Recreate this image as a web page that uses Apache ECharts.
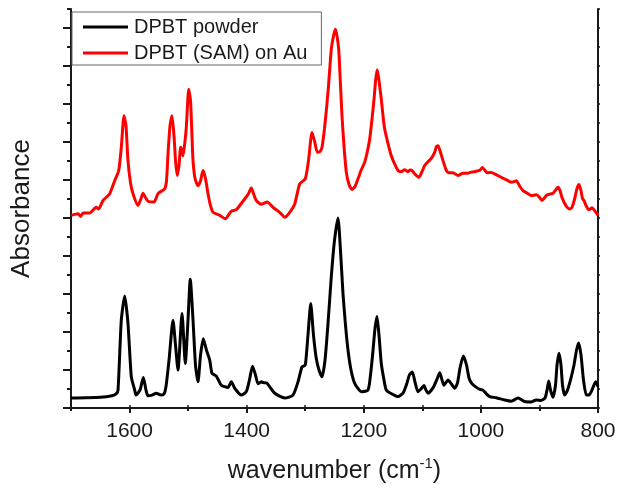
<!DOCTYPE html>
<html><head><meta charset="utf-8">
<script src="https://cdn.jsdelivr.net/npm/echarts@6/dist/echarts.min.js"></script>
<style>html,body{margin:0;padding:0;background:#fff}#c{width:618px;height:488px}</style>
</head><body><div id="c"></div>
<script>
const seriesNames = ['DPBT powder', 'DPBT (SAM) on Au'];

const powderWavenumber = [1700,1650,1630,1623,1619.7,1614.1,1608.3,1602.7,1597,1591.2,1589,1582.2,1576.5,1571.9,1568.5,1561.7,1554.3,1546.3,1541.2,1537.8,1532.6,1525.8,1521.5,1517.3,1510.4,1504.8,1500.2,1496.3,1491.6,1487.4,1483.1,1478.8,1474.1,1468.6,1463.1,1459.2,1451.9,1443.3,1431.9,1426.2,1420.4,1409.2,1400.6,1395.2,1390,1384.9,1380.6,1374.3,1372.1,1365.8,1360.7,1352.1,1335,1320.9,1312.3,1305.5,1299.9,1295.3,1290.6,1285.9,1281.1,1276.5,1271.3,1266.2,1261.1,1255.5,1250,1244,1239.8,1235.5,1231.2,1226.9,1221.8,1215.5,1204.2,1192.8,1188.5,1184.2,1180.8,1177.4,1174,1170.1,1165.5,1161.5,1151.8,1141.6,1133,1127.4,1122,1117.1,1112.5,1107.4,1102.3,1097.2,1093.7,1090.3,1081.8,1074.9,1070.3,1066.4,1063,1056.1,1050.2,1044.7,1040,1035.7,1030,1024.5,1020.3,1015.7,1008.3,1001.5,996.4,990.4,985,973.7,959.3,948.1,936.6,925.2,913.9,905.4,897.3,890.5,887.1,884.2,881.1,876.9,872.6,870,866.6,863.2,860.6,856.9,852.1,845.6,841,836.7,833,829,824.8,820,815.4,811.4,803.9,800];
const powderAbsorbance = [0.26,0.28,0.32,0.37,0.47,2.31,2.95,2.23,0.82,0.47,0.34,0.47,0.80,0.47,0.32,0.34,0.39,0.34,0.37,0.56,1.26,2.31,1.65,1.0,2.49,1.17,2.31,3.39,2.31,1.13,0.69,1.39,1.82,1.52,1.26,0.91,0.84,0.60,0.54,0.69,0.52,0.34,0.43,0.74,1.10,0.87,0.64,0.69,0.67,0.66,0.56,0.39,0.26,0.34,0.69,1.08,1.13,1.92,2.75,1.92,1.30,1.0,0.82,1.26,2.22,3.45,4.41,5.0,4.15,3.01,2.18,1.52,1.0,0.65,0.43,0.47,0.87,1.52,2.10,2.41,1.92,1.17,0.74,0.47,0.37,0.30,0.39,0.60,0.87,0.95,0.68,0.43,0.50,0.59,0.47,0.39,0.53,0.76,0.93,0.74,0.60,0.74,0.63,0.52,0.66,1.05,1.37,1.13,0.79,0.65,0.55,0.49,0.47,0.37,0.30,0.27,0.21,0.18,0.26,0.17,0.16,0.21,0.20,0.26,0.47,0.71,0.47,0.28,0.60,1.13,1.44,1.13,0.60,0.34,0.47,0.82,1.13,1.52,1.71,1.39,0.74,0.34,0.34,0.43,0.69,0.56];

const samWavenumber = [1699.5,1688,1683.4,1679.5,1668.1,1656.8,1652.7,1645.4,1633.9,1625.4,1618.5,1614.1,1609.5,1606.1,1602.7,1598.4,1594.1,1585.6,1580.5,1577,1572.8,1568.5,1558.3,1551.4,1540,1536.9,1534.3,1530.9,1527.5,1524.1,1521.5,1518.5,1515.6,1512.7,1510.4,1508.7,1506.2,1503.1,1499,1495.9,1493.4,1491.6,1488.2,1483.1,1478.8,1474.6,1470.3,1466,1461.8,1457.5,1446,1436.5,1426.2,1417.7,1403.4,1396.9,1392.1,1388.3,1383.5,1375,1364.8,1355,1343.6,1335,1326.5,1317.9,1309.4,1299.9,1294.4,1288.4,1284.1,1279.4,1274.8,1271.3,1267.1,1264,1260.2,1255.5,1251.7,1248.6,1245.7,1242.8,1240.1,1237.2,1233.8,1229.8,1225.2,1220.1,1215,1209.9,1204.7,1198.4,1193.6,1189.9,1185.9,1182.5,1179.5,1176.9,1174,1170.1,1167.2,1164.3,1158.6,1153,1147.5,1141.6,1136.4,1130.1,1124.5,1121,1117.6,1111.7,1105.7,1100.6,1096,1090.3,1084.7,1079.2,1075.8,1073.2,1069.8,1064.7,1059,1054.5,1047.6,1039.1,1030.6,1022,1015.2,1007.8,1001.5,997.3,993,989.1,982.3,974.2,965.1,957.1,948.1,944.3,939.5,934.1,928.1,921.3,913.9,905.4,900.7,895.6,891.4,886.6,882,876.9,871.7,868.3,864.9,861.5,858,853.8,848.3,844.4,840.1,835.9,832.4,829,826.5,823.9,820.5,815.9,812.8,810.2,806,800];
const samAbsorbance = [5.07,5.11,5.04,5.13,5.13,5.28,5.24,5.46,5.64,5.98,6.25,6.86,7.69,7.43,6.51,5.93,5.64,5.33,5.51,5.65,5.54,5.44,5.42,5.64,5.77,5.98,6.69,7.43,7.69,7.17,6.51,6.12,6.38,6.86,6.77,6.64,6.90,7.38,8.39,8.09,7.17,6.51,6.04,5.85,5.98,6.25,6.04,5.64,5.33,5.15,5.07,4.98,5.18,5.22,5.50,5.64,5.79,5.64,5.46,5.36,5.42,5.28,5.15,5.02,5.15,5.37,5.90,6.03,6.51,7.25,7.03,6.73,6.75,6.86,7.35,7.82,8.48,9.44,9.79,9.97,9.79,9.44,8.61,7.69,6.90,6.20,5.88,5.75,5.83,6.03,6.25,6.47,6.77,7.08,7.61,8.13,8.66,8.90,8.61,8.13,7.69,7.34,6.96,6.64,6.43,6.25,6.22,6.27,6.22,6.26,6.25,6.14,6.07,6.22,6.38,6.48,6.57,6.72,6.88,6.90,6.77,6.51,6.25,6.19,6.19,6.12,6.18,6.18,6.21,6.23,6.26,6.33,6.25,6.19,6.20,6.14,6.07,6.01,5.94,5.95,5.98,5.85,5.72,5.66,5.59,5.61,5.56,5.46,5.53,5.61,5.63,5.65,5.75,5.81,5.72,5.54,5.42,5.30,5.24,5.28,5.49,5.77,5.88,5.72,5.51,5.46,5.33,5.22,5.24,5.27,5.20,5.07];

const xLabelTicks = [1600, 1400, 1200, 1000, 800];
const xMinorTicks = [1700, 1500, 1300, 1100, 900];
const yMajorTicks = [0, 1, 2, 3, 4, 5, 6, 7, 8, 9, 10];
const yMinorTicks = [0.5, 1.5, 2.5, 3.5, 4.5, 5.5, 6.5, 7.5, 8.5, 9.5, 10.5];

const FONT = 'Liberation Sans, Arial, sans-serif';
const INK = '#1a1a1a';

function zip(xs, ys) { return xs.map((x, i) => [x, ys[i]]); }

const chart = echarts.init(document.getElementById('c'), null, {renderer: 'canvas'});

const xBase = {type: 'value', min: 800, max: 1700, interval: 100, inverse: true, splitLine: {show: false}};
const yBase = {type: 'value', min: 0, max: 10.5, interval: 0.5, splitLine: {show: false}};
const axLine = {show: true, lineStyle: {color: INK, width: 2}};

chart.setOption({
  animation: false,
  backgroundColor: '#fff',
  grid: {left: 71, right: 20, top: 9, bottom: 80, containLabel: false, outerBoundsMode: 'none'},
  legend: {
    data: seriesNames,
    orient: 'vertical',
    left: 72, top: 12,
    icon: 'rect',
    itemWidth: 45, itemHeight: 3, itemGap: 6,
    padding: [5, 14, 2, 11],
    borderColor: '#666', borderWidth: 1, backgroundColor: '#fff',
    textStyle: {fontSize: 20, color: INK, fontFamily: FONT, padding: [0, 0, 0, 1]}
  },
  xAxis: [
    Object.assign({}, xBase, {
      position: 'bottom',
      axisLine: axLine,
      axisTick: {show: true, customValues: xLabelTicks, length: 5, lineStyle: {color: INK, width: 2}},
      axisLabel: {show: true, customValues: xLabelTicks, fontSize: 21, color: INK, fontFamily: FONT, margin: 13,
                  formatter: function (v) { return String(v); }},
      name: '{a|wavenumber (cm}{s|-1}{a|)}',
      nameLocation: 'middle', nameGap: 48,
      nameTextStyle: {
        fontSize: 25, color: INK, fontFamily: FONT,
        rich: {
          a: {fontSize: 25, color: INK, fontFamily: FONT, lineHeight: 30},
          s: {fontSize: 15, color: INK, fontFamily: FONT, verticalAlign: 'top', lineHeight: 16}
        }
      }
    }),
    Object.assign({}, xBase, {
      position: 'bottom',
      axisLine: {show: false},
      axisTick: {show: true, customValues: xMinorTicks, length: 3, lineStyle: {color: INK, width: 2}},
      axisLabel: {show: false}
    }),
    Object.assign({}, xBase, {
      position: 'top',
      axisLine: axLine,
      axisTick: {show: true, customValues: xLabelTicks.concat(xMinorTicks), length: 3, lineStyle: {color: INK, width: 1.5}},
      axisLabel: {show: false}
    })
  ],
  yAxis: [
    Object.assign({}, yBase, {
      position: 'left',
      axisLine: axLine,
      axisTick: {show: true, customValues: yMajorTicks, length: 8, lineStyle: {color: INK, width: 2}},
      axisLabel: {show: false},
      name: 'Absorbance', nameLocation: 'middle', nameGap: 36,
      nameTextStyle: {fontSize: 26, color: INK, fontFamily: FONT}
    }),
    Object.assign({}, yBase, {
      position: 'left',
      axisLine: {show: false},
      axisTick: {show: true, customValues: yMinorTicks, length: 4, lineStyle: {color: INK, width: 2}},
      axisLabel: {show: false}
    }),
    Object.assign({}, yBase, {
      position: 'right',
      axisLine: axLine,
      axisTick: {show: true, customValues: yMajorTicks.concat(yMinorTicks), length: 2, lineStyle: {color: INK, width: 1.5}},
      axisLabel: {show: false}
    })
  ],
  series: [
    {
      name: seriesNames[0], type: 'line', xAxisIndex: 0, yAxisIndex: 0,
      symbol: 'none', showSymbol: false, smooth: 0.2,
      lineStyle: {color: '#000000', width: 3},
      itemStyle: {color: '#000000'},
      data: zip(powderWavenumber, powderAbsorbance)
    },
    {
      name: seriesNames[1], type: 'line', xAxisIndex: 0, yAxisIndex: 0,
      symbol: 'none', showSymbol: false, smooth: 0.2,
      lineStyle: {color: '#ff0000', width: 3},
      itemStyle: {color: '#ff0000'},
      data: zip(samWavenumber, samAbsorbance)
    }
  ]
});
</script>
</body></html>
